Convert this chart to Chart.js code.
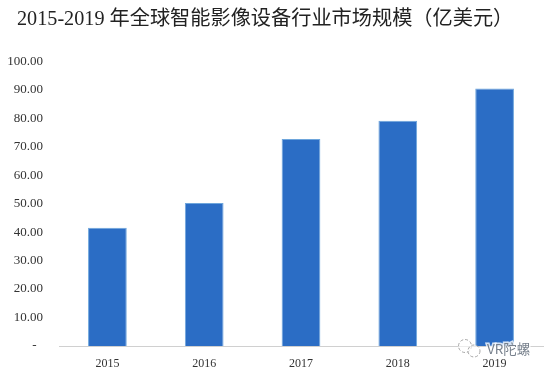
<!DOCTYPE html>
<html>
<head>
<meta charset="utf-8">
<style>
  html, body { margin: 0; padding: 0; background: #fff; }
  #wrap { width: 546px; height: 374px; }
</style>
<script src="https://cdn.jsdelivr.net/npm/chart.js@4"></script>
</head>
<body>
<div id="wrap"><canvas id="myChart" width="546" height="374"></canvas></div>
<script>
const titleText = '2015-2019 年全球智能影像设备行业市场规模（亿美元）';
const years = ['2015', '2016', '2017', '2018', '2019'];
const marketSize = [41.5, 50.2, 72.7, 79.1, 90.4];
const yTickLabels = ['-  ', '10.00', '20.00', '30.00', '40.00', '50.00', '60.00', '70.00', '80.00', '90.00', '100.00'];
const watermarkText = 'VR陀螺';

const serif = '"Liberation Serif", "Noto Sans CJK SC", serif';

// title sits a bit left of centre, the title plugin has no x offset
const titleOffset = {
  id: 'titleOffset',
  afterLayout(chart) {
    chart.titleBlock.left = 17;
  }
};

// wechat style watermark in the bottom right corner
const watermark = {
  id: 'watermark',
  afterDraw(chart) {
    const c = chart.ctx;
    c.save();
    c.strokeStyle = '#a5a5a5';
    c.fillStyle = 'rgba(255,255,255,0.6)';
    c.lineWidth = 1;
    c.setLineDash([3, 2]);
    c.beginPath();
    c.arc(465, 346, 6.5, 0, Math.PI * 2);
    c.fill();
    c.stroke();
    c.beginPath();
    c.arc(474, 351, 6, 0, Math.PI * 2);
    c.fill();
    c.stroke();
    c.setLineDash([]);
    c.font = '13.5px "Noto Sans CJK SC", sans-serif';
    c.textBaseline = 'middle';
    c.lineWidth = 3;
    c.strokeStyle = 'rgba(255,255,255,0.8)';
    c.strokeText(watermarkText, 487, 349);
    c.fillStyle = '#77808c';
    c.fillText(watermarkText, 487, 349);
    c.restore();
  }
};

const ctx = document.getElementById('myChart');
new Chart(ctx, {
  type: 'bar',
  data: {
    labels: years,
    datasets: [{
      data: marketSize,
      backgroundColor: '#2b6dc5',
      borderColor: '#6ea6dc',
      borderWidth: { left: 1, right: 1, top: 1, bottom: 0 },
      categoryPercentage: 0.4,
      barPercentage: 1
    }]
  },
  options: {
    responsive: false,
    animation: false,
    layout: { padding: { left: 0, right: 3, top: 0, bottom: 0 } },
    plugins: {
      legend: { display: false },
      tooltip: { enabled: false },
      title: {
        display: true,
        text: titleText,
        align: 'start',
        color: '#222',
        font: { family: serif, size: 20.2, weight: 'normal' },
        padding: { top: 8, bottom: 29 }
      }
    },
    scales: {
      x: {
        grid: { display: false, drawTicks: false },
        border: { color: '#d0d0d0', width: 1 },
        ticks: { color: '#333', padding: 11, font: { family: serif, size: 12 } },
        afterFit(scale) { scale.height = 28; }
      },
      y: {
        min: 0,
        max: 100,
        grid: { display: false, drawTicks: false },
        border: { display: false },
        afterBuildTicks(scale) {
          scale.ticks = yTickLabels.map((_, i) => ({ value: i * 10 }));
        },
        ticks: {
          color: '#333',
          padding: 16,
          font: { family: serif, size: 13 },
          callback(value) { return yTickLabels[value / 10]; }
        },
        afterFit(scale) { scale.width = 59; }
      }
    }
  },
  plugins: [titleOffset, watermark]
});
</script>
</body>
</html>
